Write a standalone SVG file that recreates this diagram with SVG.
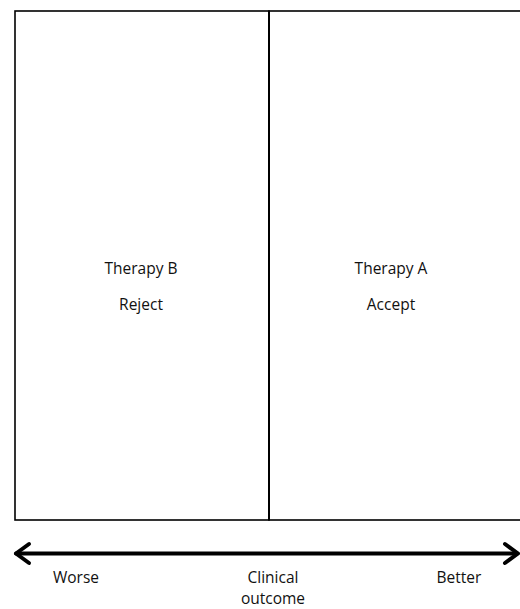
<svg xmlns="http://www.w3.org/2000/svg" width="520" height="609" viewBox="0 0 520 609">
  <style>
    .frame { fill: none; stroke: #000; stroke-width: 1.6; }
    .divider { stroke: #000; stroke-width: 2; }
    .axis { stroke: #000; stroke-width: 4; fill: none; stroke-linecap: round; stroke-linejoin: round; }
    .label { font-family: "Open Sans", "Noto Sans", sans-serif; font-size: 15.5px; fill: #111; text-anchor: middle; }
  </style>
  <rect width="520" height="609" fill="#fff"/>

  <g id="panel-b">
    <rect class="frame" x="15" y="11" width="254" height="509"/>
    <text class="label" x="141" y="274">Therapy B</text>
    <text class="label" x="141" y="310">Reject</text>
  </g>

  <g id="panel-a">
    <rect class="frame" x="269" y="11" width="260" height="509"/>
    <text class="label" x="391" y="274">Therapy A</text>
    <text class="label" x="391" y="310">Accept</text>
  </g>

  <g id="connectors">
    <line class="divider" x1="269" y1="11" x2="269" y2="520"/>
    <line class="axis" x1="16" y1="553.5" x2="517" y2="553.5"/>
    <polyline class="axis" points="29,544 16,553.5 29,563"/>
    <polyline class="axis" points="505,544 518,553.5 505,563"/>
  </g>

  <g id="axis-labels">
    <text class="label" x="76" y="583">Worse</text>
    <text class="label" x="273" y="583">Clinical</text>
    <text class="label" x="273" y="604">outcome</text>
    <text class="label" x="459" y="583">Better</text>
  </g>
</svg>
